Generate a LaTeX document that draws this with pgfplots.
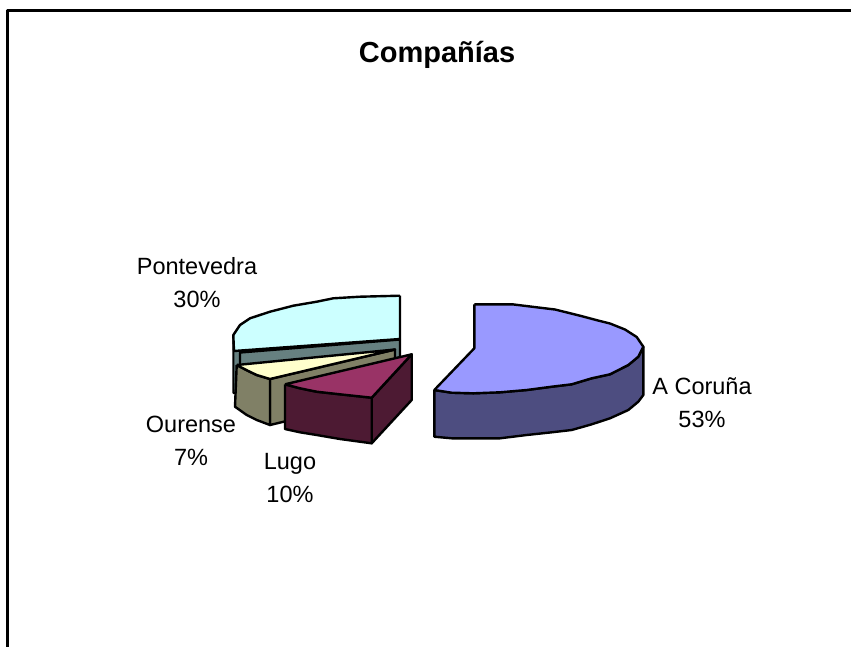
\documentclass[border=0pt]{standalone}
\usepackage{fontspec}
\setmainfont{Liberation Sans}
\usepackage{pgfplots}
\pgfplotsset{compat=1.18}
\definecolor{acT}{HTML}{9999FF}\definecolor{acS}{HTML}{4D4D80}
\definecolor{poT}{HTML}{CCFFFF}\definecolor{poS}{HTML}{668080}
\definecolor{ouT}{HTML}{FFFFCC}\definecolor{ouS}{HTML}{808066}
\definecolor{luT}{HTML}{993366}\definecolor{luS}{HTML}{4D1A33}
\tikzset{lbl/.style={anchor=base, inner sep=0pt, font=\fontsize{23.5}{28}\selectfont}}
\begin{document}
\begin{tikzpicture}
\begin{axis}[
  scale only axis, width=851pt, height=646pt,
  xmin=0, xmax=851, ymin=0, ymax=646, y dir=reverse,
  hide axis, clip=true,
  every axis plot/.append style={line width=2.4pt, line join=round, no markers},
]
% frame
\addplot[black, line width=2.8pt] coordinates {(7.2,660) (7.2,10.3) (860,10.3)};
% Pontevedra
\addplot[fill=poS, draw=black, line width=2pt] coordinates {(233.3,335) (233.3,393) (240,393) (240,351) (233.3,335)};
\addplot[fill=poS, draw=black] coordinates {(240,352.5) (400,339.5) (400,385) (240,397) (240,352.5)};
\addplot[fill=poT, draw=black] coordinates {(400,295.7) (360,296.7) (333.3,298.3) (316.7,301.7) (293.3,305.7) (270,311.7) (250,318.3) (240,325) (233.3,335) (234,351) (400,339) (400,295.7)};
% Ourense
\addplot[fill=ouS, draw=black] coordinates {(270,379) (395,349.5) (395,395) (270,425) (270,379)};
\addplot[fill=ouS, draw=black] coordinates {(236.7,365) (248.3,371) (256.7,375) (270,379) (270,425) (256.7,420) (246.7,415) (235,406.7) (236.7,365)};
\addplot[fill=ouT, draw=black] coordinates {(236.7,365) (248.3,371) (256.7,375) (270,379) (395,349.5) (236.7,365)};
% Lugo
\addplot[fill=luS, draw=black] coordinates {(371.7,397.7) (411.7,354.3) (411.7,400) (371.7,443.3) (371.7,397.7)};
\addplot[fill=luS, draw=black] coordinates {(285,384.3) (300,388.3) (316.7,391.7) (340,394.3) (371.7,397.7) (371.7,443.3) (340,439) (316.7,435) (300,432.3) (285,429) (285,384.3)};
\addplot[fill=luT, draw=black] coordinates {(285,384.3) (300,388.3) (316.7,391.7) (340,394.3) (371.7,397.7) (411.7,354.3) (285,384.3)};
% A Coruna
\addplot[fill=acS, draw=black] coordinates {(434.3,390) (434.3,436.7) (451.7,438.3) (500,438.3) (526.7,435) (551.7,432.3) (571.7,430) (591.7,424.3) (610,418.3) (628.3,410) (638.3,401.7) (643.3,395) (643.3,346.7) (638.3,356.7) (628.3,365) (610,374.3) (591.7,378.3) (571.7,384.3) (551.7,386.7) (526.7,390) (500,392.3) (473.3,393.3) (451.7,392.7) (434.3,390)};
\addplot[fill=acT, draw=black] coordinates {(474.3,304.3) (512.3,304.3) (540,307.7) (555,309.5) (580,315.7) (598,320.5) (610,323.5) (625,329.5) (636.7,337) (643.3,346.7) (638.3,356.7) (628.3,365) (610,374.3) (591.7,378.3) (571.7,384.3) (551.7,386.7) (526.7,390) (500,392.3) (473.3,393.3) (451.7,392.7) (434.3,390) (474.3,348.3) (474.3,304.3)};
% text
\node[anchor=base, inner sep=0pt, font=\bfseries\fontsize{29}{34}\selectfont] at (axis cs:437,62) {Compañías};
\node[lbl] at (axis cs:197,274) {Pontevedra};
\node[lbl] at (axis cs:197,307) {30\%};
\node[lbl] at (axis cs:191,432) {Ourense};
\node[lbl] at (axis cs:191,465) {7\%};
\node[lbl] at (axis cs:290,469) {Lugo};
\node[lbl] at (axis cs:290,502) {10\%};
\node[lbl] at (axis cs:702,394) {A Coruña};
\node[lbl] at (axis cs:702,427) {53\%};
\end{axis}
\path[use as bounding box] (0,0) rectangle (851pt,646pt);
\end{tikzpicture}
\end{document}
